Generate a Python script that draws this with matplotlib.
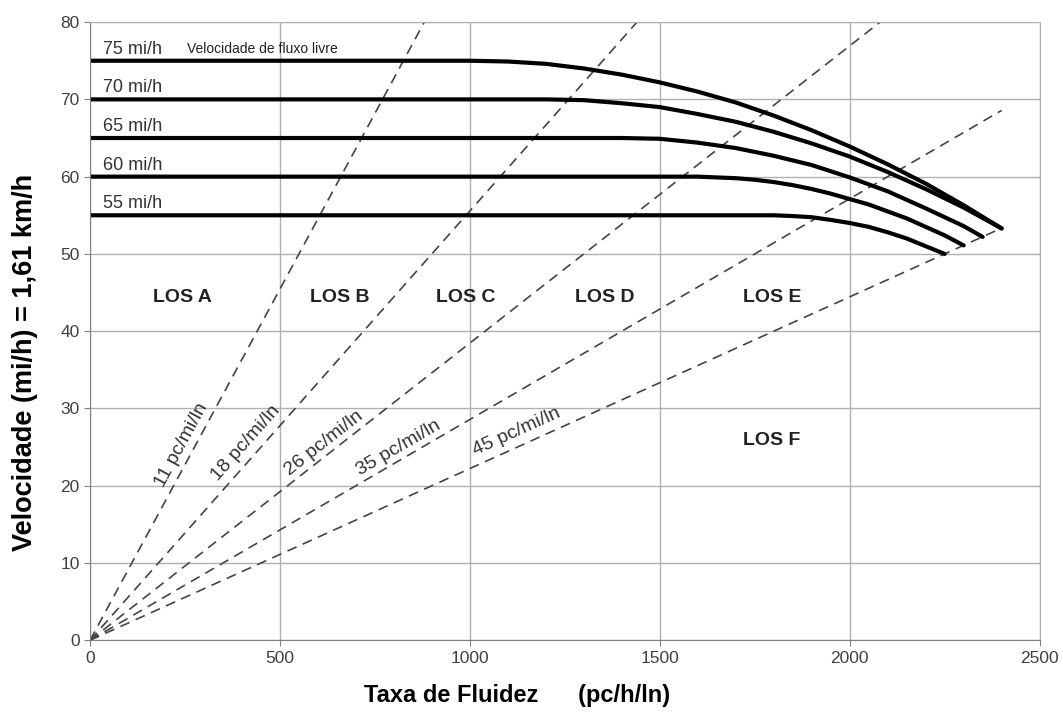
import matplotlib as mpl
import matplotlib.pyplot as plt
import numpy as np

mpl.rcParams['font.family'] = ['Liberation Sans Narrow', 'Liberation Sans', 'DejaVu Sans']

# speed-flow curves (flow pc/h/ln, speed mi/h)
flow_75 = [0, 1000, 1100, 1200, 1300, 1400, 1500, 1600, 1700, 1800, 1900, 2000, 2100, 2200, 2300, 2400]
speed_75 = [75, 75, 74.9, 74.6, 74.0, 73.2, 72.2, 71.0, 69.6, 67.9, 66.0, 63.9, 61.6, 59.1, 56.3, 53.3]
flow_70 = [0, 1200, 1300, 1400, 1500, 1600, 1700, 1800, 1900, 2000, 2100, 2200, 2300, 2400]
speed_70 = [70, 70, 69.9, 69.5, 69.0, 68.1, 67.1, 65.8, 64.3, 62.6, 60.6, 58.4, 56.0, 53.3]
flow_65 = [0, 1400, 1500, 1600, 1700, 1800, 1900, 2000, 2100, 2200, 2300, 2350]
speed_65 = [65, 65, 64.9, 64.4, 63.7, 62.7, 61.5, 59.9, 58.1, 55.9, 53.6, 52.2]
flow_60 = [0, 1600, 1700, 1750, 1800, 1850, 1900, 1950, 2000, 2050, 2100, 2150, 2200, 2250, 2300]
speed_60 = [60, 60, 59.8, 59.6, 59.3, 58.9, 58.4, 57.8, 57.1, 56.4, 55.5, 54.6, 53.5, 52.4, 51.1]
flow_55 = [0, 1800, 1850, 1900, 1950, 2000, 2050, 2100, 2150, 2200, 2250]
speed_55 = [55, 55, 54.9, 54.75, 54.4, 54.0, 53.5, 52.8, 52.0, 51.0, 50.0]
curves = [(flow_75, speed_75), (flow_70, speed_70), (flow_65, speed_65),
          (flow_60, speed_60), (flow_55, speed_55)]
ffs_labels = ['75 mi/h', '70 mi/h', '65 mi/h', '60 mi/h', '55 mi/h']
ffs_values = [75, 70, 65, 60, 55]

# density lines: pc/mi/ln and the flow where each dashed line stops
densities = [11, 18, 26, 35, 45]
dens_end_flow = [880, 1440, 2080, 2400, 2400]
dens_labels = ['11 pc/mi/ln', '18 pc/mi/ln', '26 pc/mi/ln', '35 pc/mi/ln', '45 pc/mi/ln']
dens_label_x = [240, 410, 615, 812, 1122]
dens_label_y = [25.2, 25.5, 25.5, 24.9, 27.0]

los_names = ['LOS A', 'LOS B', 'LOS C', 'LOS D', 'LOS E', 'LOS F']
los_x = [242, 658, 990, 1355, 1795, 1795]
los_y = [44.3, 44.3, 44.3, 44.3, 44.3, 25.9]

fig = plt.figure(figsize=(10.63, 7.13), dpi=100)
ax = fig.add_axes([0.0847, 0.102, 0.8933, 0.867])
ax.set_xlim(0, 2500)
ax.set_ylim(0, 80)
ax.set_xticks(range(0, 2501, 500))
ax.set_yticks(range(0, 81, 10))
ax.grid(True, color='#b0b0b0', lw=1.0)
ax.set_axisbelow(True)
for s in ax.spines.values():
    s.set_color('#b0b0b0')
ax.spines['left'].set_color('#808080')
ax.spines['bottom'].set_color('#808080')
ax.tick_params(colors='#808080', labelcolor='#404040', labelsize=12.5, length=4)

# dashed density lines
for d, xe in zip(densities, dens_end_flow):
    ax.plot([0, xe], [0, xe / d], color='#444444', lw=1.2, ls=(0, (6, 4)))

# speed-flow curves
for (fx, fy) in curves:
    ax.plot(fx, fy, color='black', lw=3.0, solid_capstyle='round', solid_joinstyle='round')

for lab, v in zip(ffs_labels, ffs_values):
    ax.text(35, v + 0.4, lab, fontsize=13, color='#333333', ha='left', va='bottom',
            family=['Liberation Sans', 'DejaVu Sans'])
ax.text(255, 75.6, 'Velocidade de fluxo livre', fontsize=10, color='#222222',
        ha='left', va='bottom', family=['Liberation Sans', 'DejaVu Sans'])

# rotate labels to follow their lines on screen
fig.canvas.draw()
for d, lab, lx, ly in zip(densities, dens_labels, dens_label_x, dens_label_y):
    p0 = ax.transData.transform((0, 0))
    p1 = ax.transData.transform((1000, 1000 / d))
    ang = np.degrees(np.arctan2(p1[1] - p0[1], p1[0] - p0[0]))
    ax.text(lx, ly, lab, rotation=ang, rotation_mode='anchor', ha='center', va='center',
            fontsize=14, color='#333333', family=['Liberation Sans', 'DejaVu Sans'])

for name, lx, ly in zip(los_names, los_x, los_y):
    ax.text(lx, ly, name, fontsize=14, fontweight='bold', ha='center', va='center',
            color='#222222', family=['Liberation Sans', 'DejaVu Sans'])

ax.set_ylabel('Velocidade (mi/h) = 1,61 km/h', fontsize=19.5, fontweight='bold',
              family=['Liberation Sans', 'DejaVu Sans'])
ax.yaxis.set_label_coords(-0.055, 0.45)
ax.set_xlabel('Taxa de Fluidez      (pc/h/ln)', fontsize=17, fontweight='bold')
ax.xaxis.set_label_coords(0.45, -0.07)

fig.savefig('out.png', dpi=100)
